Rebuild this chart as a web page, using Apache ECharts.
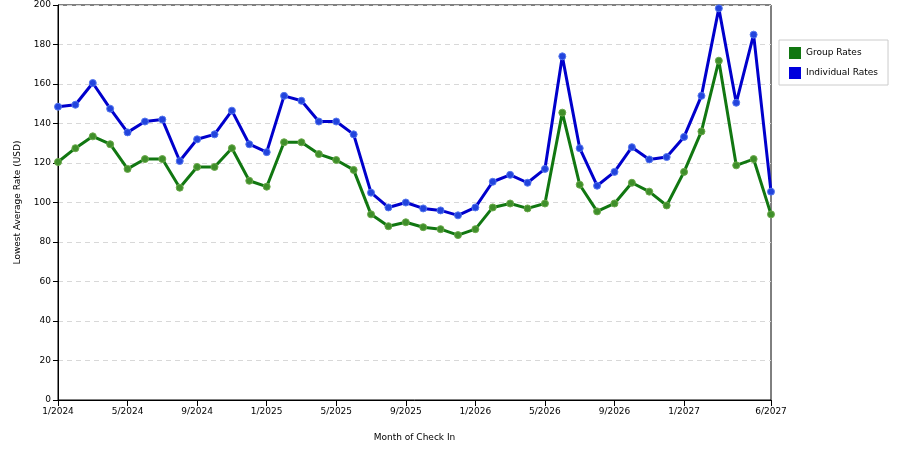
<!DOCTYPE html>
<html>
<head>
<meta charset="utf-8">
<script src="https://cdn.jsdelivr.net/npm/echarts@6/dist/echarts.min.js"></script>
<style>
html,body{margin:0;padding:0;background:#fff;}
#chart{width:900px;height:450px;}
</style>
</head>
<body>
<div id="chart"></div>
<script>
var months = ["1/2024","2/2024","3/2024","4/2024","5/2024","6/2024","7/2024","8/2024","9/2024","10/2024","11/2024","12/2024",
"1/2025","2/2025","3/2025","4/2025","5/2025","6/2025","7/2025","8/2025","9/2025","10/2025","11/2025","12/2025",
"1/2026","2/2026","3/2026","4/2026","5/2026","6/2026","7/2026","8/2026","9/2026","10/2026","11/2026","12/2026",
"1/2027","2/2027","3/2027","4/2027","5/2027","6/2027"];
var groupRates = [120.5,127.5,133.5,129.5,117,122,122,107.5,118,118,127.5,111,
108,130.5,130.5,124.5,121.5,116.5,94,88,90,87.5,86.5,83.5,
86.5,97.5,99.5,97,99.5,145.5,109,95.5,99.5,110,105.5,98.5,
115.5,136,171.8,118.8,122,94];
var individualRates = [148.5,149.5,160.5,147.5,135.5,141,142,121,132,134.5,146.5,129.5,
125.5,154,151.5,141,141,134.5,105,97.5,100,97,96,93.5,
97.5,110.5,114,110,117,174,127.5,108.5,115.5,128,121.8,123,
133.2,154,198.3,150.5,185,105.5];
var shownIdx = [0,4,8,12,16,20,24,28,32,36,41];

var font = "'DejaVu Sans', Arial, sans-serif";
var chart = echarts.init(document.getElementById('chart'));
function showTick(i){ return shownIdx.indexOf(i) >= 0; }
chart.setOption({
  animation:false,
  backgroundColor:'#fff',
  grid:{left:58,right:129,top:5,bottom:50,show:true,borderColor:'#000',borderWidth:1,containLabel:false},
  legend:{
    orient:'vertical', left:779, top:40,
    borderColor:'#cccccc', borderWidth:1, padding:[7,10,6,10],
    itemWidth:12, itemHeight:12, itemGap:8,
    icon:'rect',
    textStyle:{fontFamily:font,fontSize:9,color:'#000'},
    data:[{name:'Group Rates',itemStyle:{color:'#117711',borderWidth:0}},{name:'Individual Rates',itemStyle:{color:'#0000dd',borderWidth:0}}]
  },
  xAxis:{
    type:'category', data:months, boundaryGap:false,
    name:'Month of Check In', nameLocation:'middle', nameGap:33,
    nameTextStyle:{fontFamily:font,fontSize:9,color:'#000'},
    axisLine:{lineStyle:{color:'#000',width:1}},
    axisTick:{show:true,length:6,interval:function(i){return showTick(i);},lineStyle:{color:'#000'}},
    axisLabel:{interval:function(i){return showTick(i);},fontFamily:font,fontSize:9,color:'#000',margin:7},
    splitLine:{show:false}
  },
  yAxis:{
    type:'value', min:0, max:200, interval:20,
    name:'Lowest Average Rate (USD)', nameLocation:'middle', nameGap:36,
    nameTextStyle:{fontFamily:font,fontSize:9,color:'#000'},
    axisLine:{show:true,lineStyle:{color:'#000',width:1}},
    axisTick:{show:true,length:5,lineStyle:{color:'#000'}},
    axisLabel:{fontFamily:font,fontSize:9,color:'#000',margin:7},
    splitLine:{show:true,lineStyle:{color:'#d8d8d8',type:[5,4],width:1}}
  },
  series:[
    {name:'Group Rates', type:'line', data:groupRates, symbol:'circle', symbolSize:7,
     lineStyle:{color:'#117711',width:3}, itemStyle:{color:'#3f8f2a',borderColor:'#6aa84a',borderWidth:1}, z:2},
    {name:'Individual Rates', type:'line', data:individualRates, symbol:'circle', symbolSize:7,
     lineStyle:{color:'#0000cc',width:3}, itemStyle:{color:'#2244dd',borderColor:'#5577ee',borderWidth:1}, z:3}
  ]
});
</script>
</body>
</html>
